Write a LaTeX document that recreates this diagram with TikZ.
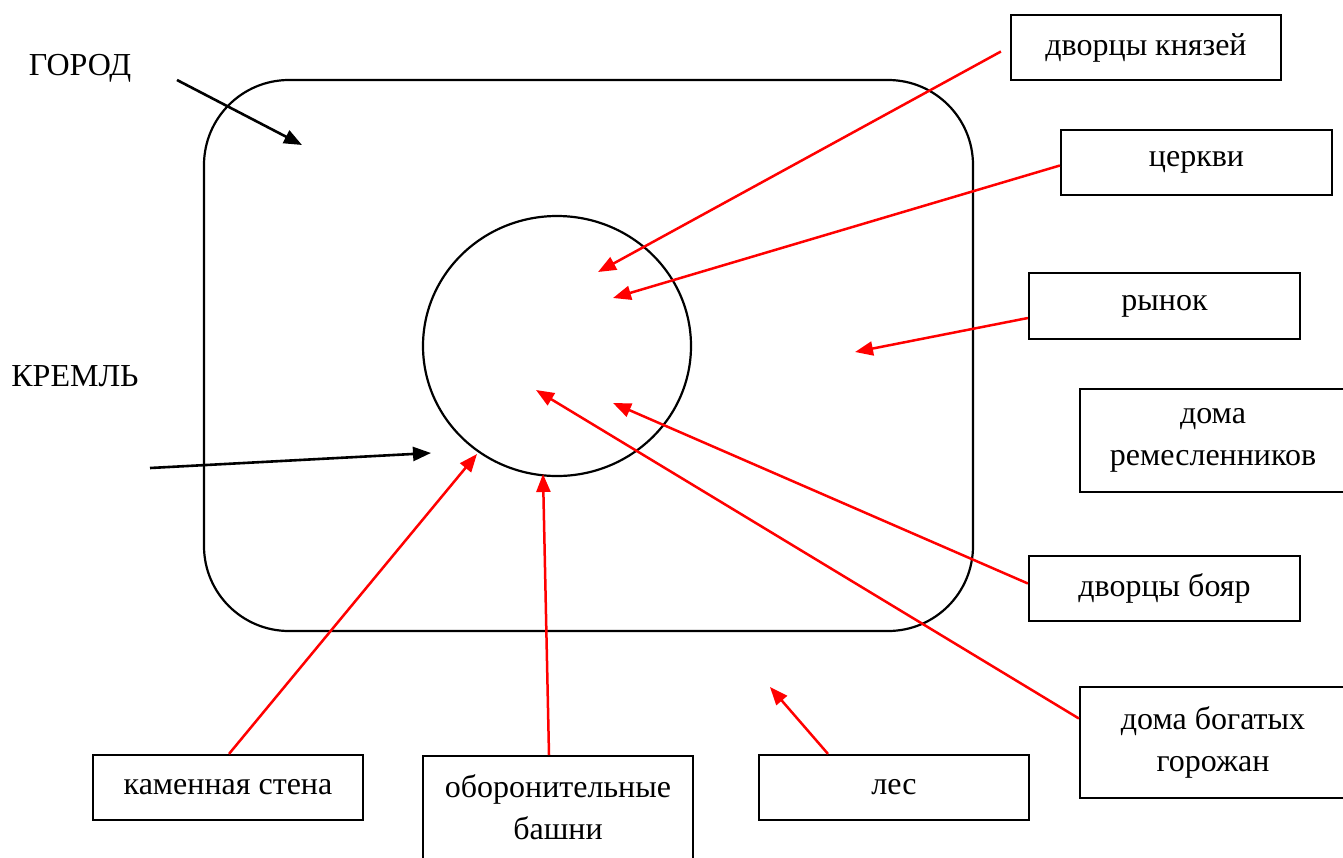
\documentclass[tikz,border=0pt]{standalone}
\usepackage{fontspec}
\setmainfont{Liberation Serif}
\usetikzlibrary{arrows.meta,shapes.geometric}
\begin{document}
\begin{tikzpicture}[x=1pt,y=-1pt,
  txt/.style={font=\fontsize{32}{42}\selectfont, align=center, inner sep=0pt},
  lbl/.style={txt, draw=black, line width=2.2pt},
  shapeline/.style={draw=black, line width=2.2pt},
  redarr/.style={draw=red, line width=2.5pt, -{Triangle[length=18pt,width=14pt]}},
  blkarr/.style={draw=black, line width=2.6pt, -{Triangle[length=18pt,width=14pt]}}]
\useasboundingbox (0,0) rectangle (1343,857);
\clip (0,0) rectangle (1343,857);

% main shapes
\node[shapeline, rounded corners=85pt, minimum width=769pt, minimum height=551pt, inner sep=0pt] (city) at (588.5,355.5) {};
\node[shapeline, ellipse, minimum width=268pt, minimum height=260pt, inner sep=0pt] (kremlin) at (557,346) {};

% free labels
\node[txt] (gorod) at (80,68) {ГОРОД};
\node[txt] (kreml) at (75,376) {КРЕМЛЬ};

% boxes
\node[lbl, minimum width=270pt, minimum height=65pt] (kn) at (1146,47.5) {дворцы князей};
\node[lbl, minimum width=271pt, minimum height=65pt] (ch) at (1196.5,162.5) {церкви};
\node[lbl, minimum width=271pt, minimum height=66pt] (ry) at (1164.5,306) {рынок};
\node[lbl, minimum width=266pt, minimum height=103pt] (rem) at (1213,440.5) {дома\\ремесленников};
\node[lbl, minimum width=271pt, minimum height=65pt] (boy) at (1164.5,588.5) {дворцы бояр};
\node[lbl, minimum width=266pt, minimum height=111pt] (bog) at (1213,742.5) {дома богатых\\горожан};
\node[lbl, minimum width=270pt, minimum height=65pt] (kam) at (228,787.5) {каменная стена};
\node[shapeline, minimum width=270pt, minimum height=120pt, anchor=north, inner sep=0pt] (bash) at (558,755) {};
\node[txt] (bashtext) at (558,807) {оборонительные\\башни};
\node[lbl, minimum width=270pt, minimum height=65pt] (les) at (894,787.5) {лес};

% arrow ends
\coordinate (g0) at (177,80);
\coordinate (g1) at (302,145);
\coordinate (k0) at (150,468);
\coordinate (k1) at (431,453);
\coordinate (tkn) at (598,272);
\coordinate (tch) at (613,298);
\coordinate (try) at (855,352);
\coordinate (tboy) at (613,403);
\coordinate (tbog) at (536,390);
\coordinate (tkam) at (477,454);
\coordinate (tbash) at (543,474);
\coordinate (tles) at (770,687);

% black arrows
\draw[blkarr] (g0) -- (g1);
\draw[blkarr] (k0) -- (k1);

% red arrows
\draw[redarr] ([xshift=-9pt,yshift=-4pt]kn.west) -- (tkn);
\draw[redarr] ([yshift=-3pt]ch.west) -- (tch);
\draw[redarr] ([yshift=-12pt]ry.west) -- (try);
\draw[redarr] ([yshift=5pt]boy.west) -- (tboy);
\draw[redarr] ([yshift=24pt]bog.west) -- (tbog);
\draw[redarr] ([xshift=1pt]kam.north) -- (tkam);
\draw[redarr] ([xshift=-9pt]bash.north) -- (tbash);
\draw[redarr] ([xshift=-66pt]les.north) -- (tles);
\end{tikzpicture}
\end{document}
